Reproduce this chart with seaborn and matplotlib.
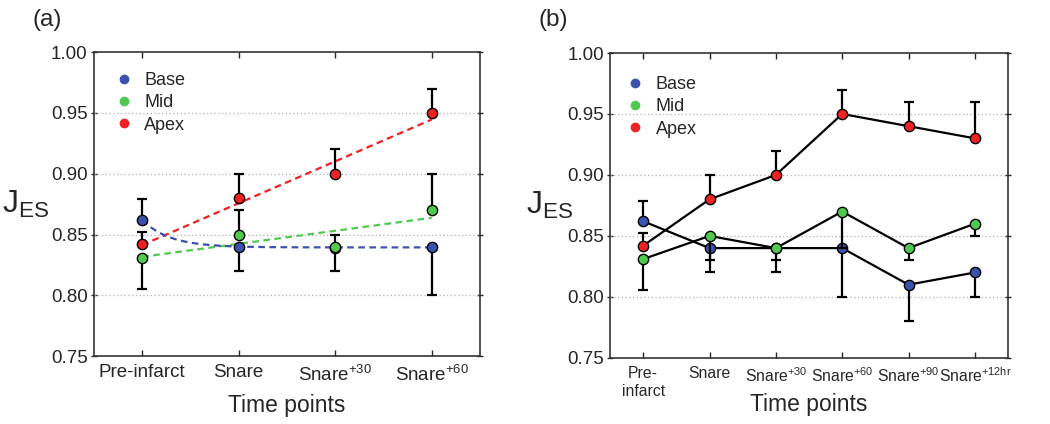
import numpy as np
import pandas as pd
import seaborn as sns
import matplotlib.pyplot as plt
from matplotlib.lines import Line2D

# categories / tick labels
labels_a = ["Pre-infarct", "Snare", r"Snare$^{+30}$", r"Snare$^{+60}$"]
labels_b = ["Pre-\ninfarct", "Snare", r"Snare$^{+30}$", r"Snare$^{+60}$",
            r"Snare$^{+90}$", r"Snare$^{+12hr}$"]
regions = ["Base", "Mid", "Apex"]

# panel (a) values and error-bar ends
base_a = [0.862, 0.840, 0.839, 0.840]
base_a_lo = [0.862, 0.820, 0.820, 0.800]
base_a_hi = [0.879, 0.840, 0.839, 0.840]
mid_a = [0.831, 0.850, 0.840, 0.870]
mid_a_lo = [0.805, 0.850, 0.840, 0.870]
mid_a_hi = [0.831, 0.870, 0.850, 0.900]
apex_a = [0.842, 0.880, 0.900, 0.950]
apex_a_lo = [0.842, 0.880, 0.900, 0.950]
apex_a_hi = [0.852, 0.900, 0.920, 0.970]

# panel (b) values and error-bar ends
base_b = [0.862, 0.840, 0.840, 0.840, 0.810, 0.820]
base_b_lo = [0.862, 0.820, 0.820, 0.800, 0.780, 0.800]
base_b_hi = [0.879, 0.840, 0.840, 0.840, 0.810, 0.820]
mid_b = [0.831, 0.850, 0.840, 0.870, 0.840, 0.860]
mid_b_lo = [0.806, 0.830, 0.830, 0.840, 0.830, 0.850]
mid_b_hi = [0.831, 0.850, 0.840, 0.870, 0.840, 0.860]
apex_b = [0.842, 0.880, 0.900, 0.950, 0.940, 0.930]
apex_b_lo = [0.842, 0.880, 0.900, 0.950, 0.940, 0.930]
apex_b_hi = [0.852, 0.900, 0.920, 0.970, 0.960, 0.960]

colors = {"Base": "#3a52ad", "Mid": "#4fc94f", "Apex": "#ee2222"}

sns.set_style("ticks")
plt.rcParams['font.family'] = ['Liberation Sans', 'DejaVu Sans']
plt.rcParams['mathtext.default'] = 'regular'


def make_df(vals, los, his):
    rows = []
    for r, v, lo, hi in zip(regions, vals, los, his):
        for i in range(len(v)):
            rows.append({"x": i, "region": r, "value": v[i], "lo": lo[i], "hi": hi[i]})
    return pd.DataFrame(rows)


df_a = make_df([base_a, mid_a, apex_a], [base_a_lo, mid_a_lo, apex_a_lo], [base_a_hi, mid_a_hi, apex_a_hi])
df_b = make_df([base_b, mid_b, apex_b], [base_b_lo, mid_b_lo, apex_b_lo], [base_b_hi, mid_b_hi, apex_b_hi])

fig = plt.figure(figsize=(10.5, 4.24), dpi=100)
ax_a = fig.add_axes([0.0895, 0.160, 0.3676, 0.717])
ax_b = fig.add_axes([0.581, 0.156, 0.379, 0.719])


def draw_points(ax, df, lines):
    for k, r in enumerate(regions):
        d = df[df.region == r]
        z = 3 + k
        ax.errorbar(d.x, d.value, yerr=[d.value - d.lo, d.hi - d.value], fmt='none',
                    ecolor='black', elinewidth=1.6, capsize=3.5, capthick=1.6, zorder=z)
        if lines:
            sns.lineplot(data=d, x="x", y="value", color="black", lw=1.6, ax=ax, zorder=z)
        sns.scatterplot(data=d, x="x", y="value", color=colors[r], s=55, edgecolor="black",
                        linewidth=1.0, ax=ax, zorder=z + 0.5, legend=False)


# panel (a): fitted trend lines (least squares from the data)
xs = np.linspace(0, 3, 200)
for r, v in [("Mid", mid_a), ("Apex", apex_a)]:
    p = np.polyfit(np.arange(4), v, 1)
    sns.lineplot(x=xs, y=np.polyval(p, xs), color=colors[r], lw=1.6, ls=(0, (3, 2)), ax=ax_a, zorder=2)
best = None
for k in np.linspace(0.5, 3.5, 200):
    A = np.column_stack([np.ones(4), np.exp(-k * np.arange(4))])
    coef, res, _, _ = np.linalg.lstsq(A, np.array(base_a), rcond=None)
    err = np.sum((A @ coef - np.array(base_a)) ** 2)
    if best is None or err < best[0]:
        best = (err, k, coef)
_, kb, cb = best
sns.lineplot(x=xs, y=cb[0] + cb[1] * np.exp(-kb * xs), color=colors["Base"], lw=1.6,
             ls=(0, (3, 2)), ax=ax_a, zorder=2)

draw_points(ax_a, df_a, lines=False)
draw_points(ax_b, df_b, lines=True)

for ax, labs, xfs in [(ax_a, labels_a, 13.5), (ax_b, labels_b, 11.3)]:
    n = len(labs)
    ax.set_xlim(-0.5, n - 0.5)
    ax.set_ylim(0.75, 1.0)
    ax.set_xticks(range(n))
    ax.set_xticklabels(labs, fontsize=xfs)
    ax.set_yticks([0.75, 0.80, 0.85, 0.90, 0.95, 1.00])
    ax.set_yticklabels(["0.75", "0.80", "0.85", "0.90", "0.95", "1.00"], fontsize=13.5)
    for y in [0.80, 0.85, 0.90, 0.95]:
        ax.axhline(y, color="#b0b0b0", lw=0.9, ls=(0, (1, 2)), zorder=1)
    ax.tick_params(axis='x', direction='in', top=True, length=4, width=1, pad=6)
    ax.tick_params(axis='y', direction='inout', right=True, length=5, width=1, pad=2)
    for s in ax.spines.values():
        s.set_linewidth(1.2)
        s.set_color("#333333")
    ax.set_xlabel("Time points", fontsize=16.5, va='center')
    ax.set_ylabel(r"$J_{ES}$", fontsize=23, rotation=0, va='center', ha='center')
    handles = [Line2D([], [], ls='none', marker='o', markersize=6, color=colors[r]) for r in regions]
    ax.legend(handles, regions, loc='upper left', frameon=False, fontsize=13,
              handletextpad=0.15, labelspacing=0.3, borderaxespad=0, borderpad=0,
              bbox_to_anchor=(0.03 if n == 4 else 0.017, 0.935 if n == 4 else 0.925))

ax_a.yaxis.set_label_coords(-0.176, 0.5)
ax_b.yaxis.set_label_coords(-0.153, 0.5)
ax_a.xaxis.set_label_coords(0.5, -0.161)
ax_b.xaxis.set_label_coords(0.5, -0.154)
fig.text(0.045, 0.952, "(a)", fontsize=17.5, ha='center', va='center')
fig.text(0.527, 0.952, "(b)", fontsize=17.5, ha='center', va='center')

fig.savefig("out.png", dpi=100)
